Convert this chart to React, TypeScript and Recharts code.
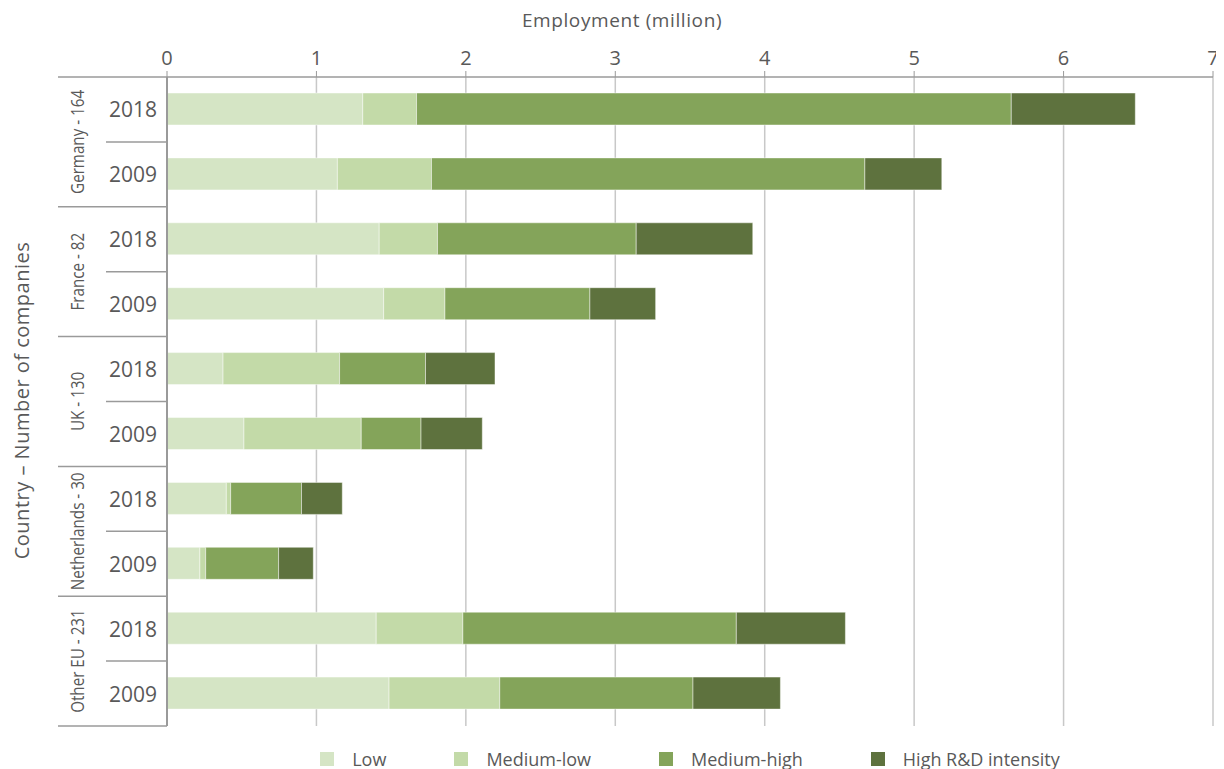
import React from "react";
import { BarChart, Bar, XAxis, YAxis, CartesianGrid, Legend } from "recharts";

const groups = ["Germany - 164", "France - 82", "UK - 130", "Netherlands - 30", "Other EU - 231"];
const years = ["2018", "2009"];
const seriesNames = ["Low", "Medium-low", "Medium-high", "High R&D intensity"];
const seriesColors = ["#d5e5c5", "#c3daa8", "#84a45a", "#5e723e"];

// values in million, order: Germany 2018, Germany 2009, France 2018, France 2009, UK 2018, UK 2009, NL 2018, NL 2009, Other 2018, Other 2009
const lowValues = [1.31, 1.14, 1.42, 1.45, 0.375, 0.515, 0.397, 0.22, 1.4, 1.486];
const mediumLowValues = [0.36, 0.63, 0.39, 0.41, 0.78, 0.785, 0.029, 0.039, 0.58, 0.741];
const mediumHighValues = [3.98, 2.9, 1.33, 0.97, 0.575, 0.4, 0.474, 0.488, 1.83, 1.293];
const highValues = [0.83, 0.515, 0.78, 0.44, 0.465, 0.41, 0.273, 0.232, 0.73, 0.585];

const xTicks = [0, 1, 2, 3, 4, 5, 6, 7];

const data = groups.flatMap((g, gi) =>
  years.map((y, yi) => {
    const i = gi * 2 + yi;
    return {
      key: `${g}|${y}`,
      group: g,
      year: y,
      low: lowValues[i],
      mediumLow: mediumLowValues[i],
      mediumHigh: mediumHighValues[i],
      high: highValues[i],
    };
  })
);

const seriesKeys = ["low", "mediumLow", "mediumHigh", "high"];

const CHART_W = 1216;
const CHART_H = 761;
const MARGIN = { top: 0, right: 11, bottom: 13, left: 0 };
const X_AXIS_H = 69;
const LEGEND_H = 30;
const PLOT_H = CHART_H - MARGIN.top - X_AXIS_H - MARGIN.bottom - LEGEND_H;
const BAND = PLOT_H / data.length;

const FONT = "'Open Sans', 'DejaVu Sans', sans-serif";
const TEXT = "#595959";
const LINE = "#9a9a9a";

const YTick = (props: any) => {
  const { x, y, payload, index } = props;
  const row = data[index] || data.find((d) => d.key === payload.value);
  if (!row) return null;
  const isFirst = row.year === years[0];
  const half = BAND / 2;
  const gx = x - 90;
  const gy = y + half;
  return (
    <g>
      <text
        x={x - 34}
        y={y}
        textAnchor="middle"
        dominantBaseline="central"
        fontFamily={FONT}
        fontSize={21}
        fill={TEXT}
      >
        {row.year}
      </text>
      {index === 0 && (
        <line x1={x - 109} x2={x} y1={y - half} y2={y - half} stroke={LINE} strokeWidth={1.5} />
      )}
      {isFirst ? (
        <line x1={x - 61} x2={x} y1={y + half} y2={y + half} stroke={LINE} strokeWidth={1.5} />
      ) : (
        <line x1={x - 109} x2={x} y1={y + half} y2={y + half} stroke={LINE} strokeWidth={1.5} />
      )}
      {isFirst && (
        <text
          x={0}
          y={0}
          transform={`translate(${gx}, ${gy}) rotate(-90) scale(0.8, 1)`}
          textAnchor="middle"
          dominantBaseline="central"
          fontFamily={FONT}
          fontSize={19}
          fill={TEXT}
        >
          {row.group}
        </text>
      )}
    </g>
  );
};

const LegendContent = () => (
  <div
    style={{
      display: "flex",
      justifyContent: "center",
      alignItems: "center",
      height: LEGEND_H,
      width: CHART_W - 159 - MARGIN.right,
      marginLeft: 159,
      gap: 68,
      fontFamily: FONT,
      fontSize: 18,
      color: TEXT,
    }}
  >
    {seriesNames.map((n, i) => (
      <div key={n} style={{ display: "flex", alignItems: "center" }}>
        <span
          style={{
            display: "inline-block",
            width: 14,
            height: 14,
            background: seriesColors[i],
            marginRight: 18,
          }}
        />
        <span>{n}</span>
      </div>
    ))}
  </div>
);

export default function App() {
  return (
    <BarChart
      width={CHART_W}
      height={CHART_H}
      data={data}
      layout="vertical"
      margin={MARGIN}
      barSize={32}
    >
      <CartesianGrid horizontal={false} vertical={true} stroke="#c8c8c8" strokeWidth={1.5} />
      <XAxis
        type="number"
        orientation="top"
        domain={[0, 7]}
        ticks={xTicks}
        height={X_AXIS_H}
        tickSize={6}
        tickMargin={6}
        stroke={LINE}
        tickLine={{ stroke: LINE }}
        axisLine={{ stroke: LINE, strokeWidth: 1.5 }}
        tick={{ fill: TEXT, fontSize: 20, fontFamily: FONT }}
        label={{
          content: (p: any) => {
            const vb = p.viewBox || {};
            return (
              <text
                x={vb.x + vb.width / 2 - 68}
                y={12}
                textAnchor="middle"
                dominantBaseline="central"
                fontFamily={FONT}
                fontSize={19}
                letterSpacing={0.6}
                fill={TEXT}
              >
                Employment (million)
              </text>
            );
          },
        }}
      />
      <YAxis
        type="category"
        dataKey="key"
        width={159}
        tickSize={0}
        tickMargin={0}
        tickLine={false}
        interval={0}
        axisLine={{ stroke: LINE, strokeWidth: 2 }}
        tick={<YTick />}
        label={{
          content: (p: any) => {
            const vb = p.viewBox || {};
            const cx = 13;
            const cy = vb.y + vb.height / 2 - 1;
            return (
              <text
                x={cx}
                y={cy}
                transform={`rotate(-90, ${cx}, ${cy})`}
                textAnchor="middle"
                dominantBaseline="central"
                fontFamily={FONT}
                fontSize={20}
                letterSpacing={0.5}
                fill={TEXT}
              >
                Country –  Number of companies
              </text>
            );
          },
        }}
      />
      <Legend
        verticalAlign="bottom"
        height={LEGEND_H}
        content={<LegendContent />}
        wrapperStyle={{ top: 736, left: 0, width: CHART_W }}
      />
      {seriesKeys.map((k, i) => (
        <Bar
          key={k}
          dataKey={k}
          name={seriesNames[i]}
          stackId="a"
          fill={seriesColors[i]}
          stroke="rgba(255,255,255,0.45)"
          strokeWidth={1}
          isAnimationActive={false}
        />
      ))}
    </BarChart>
  );
}
